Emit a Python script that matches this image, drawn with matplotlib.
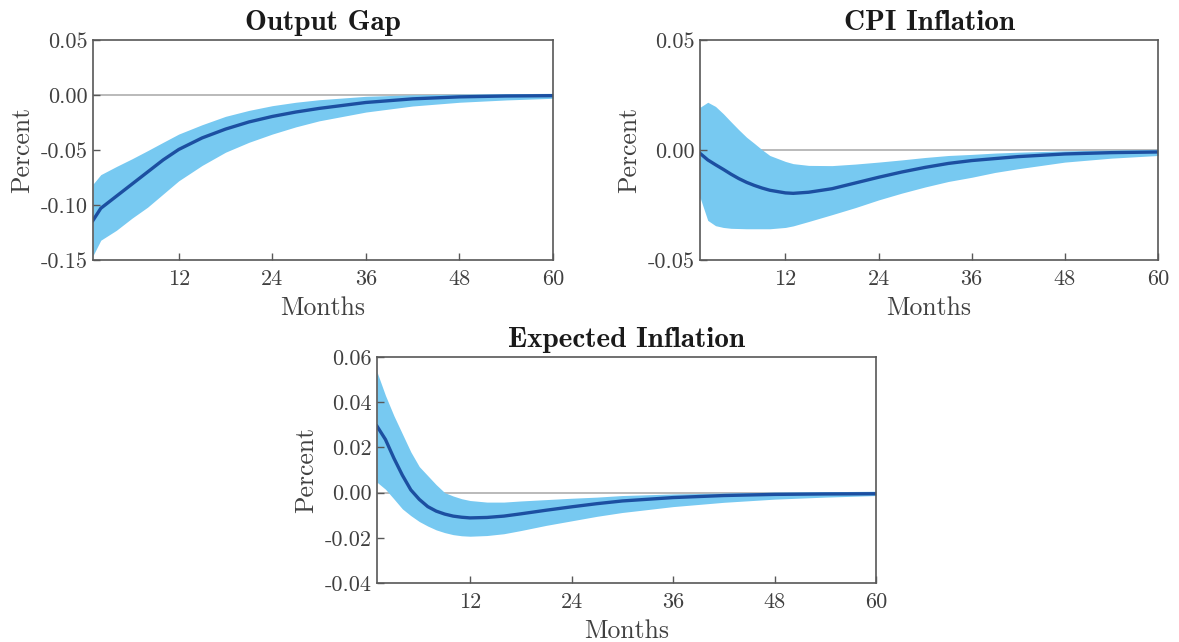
import numpy as np
import matplotlib
matplotlib.use("Agg")
import matplotlib.pyplot as plt
from matplotlib.ticker import FormatStrFormatter

plt.rcParams['font.family'] = ['cmr10', 'DejaVu Serif']
plt.rcParams['axes.unicode_minus'] = False
plt.rcParams['mathtext.fontset'] = 'cm'

# Output gap
og_m = [1, 2, 4, 6, 8, 10, 12, 15, 18, 21, 24, 27, 30, 36, 42, 48, 54, 60]
og_med = [-0.114, -0.103, -0.092, -0.081, -0.070, -0.059, -0.0495, -0.039, -0.031,
          -0.0245, -0.0195, -0.0155, -0.0122, -0.0068, -0.0035, -0.0017, -0.0009, -0.0006]
og_up = [-0.081, -0.0724, -0.065, -0.058, -0.0506, -0.043, -0.0355, -0.027, -0.0194,
         -0.014, -0.0097, -0.0066, -0.0043, -0.0012, 0.0002, 0.0008, 0.0012, 0.0015]
og_lo = [-0.146, -0.132, -0.123, -0.112, -0.102, -0.090, -0.078, -0.064, -0.052,
         -0.043, -0.0355, -0.029, -0.0235, -0.0155, -0.010, -0.0066, -0.0045, -0.003]

# CPI inflation
cpi_m = [1, 2, 3, 4, 5, 6, 7, 8, 9, 10, 12, 13, 15, 18, 21, 24, 27, 30, 33, 36, 39, 42,
         48, 54, 60]
cpi_med = [-0.0015, -0.0045, -0.0067, -0.0088, -0.0110, -0.0130, -0.0147, -0.0161,
           -0.0173, -0.0183, -0.0195, -0.0197, -0.0192, -0.0176, -0.0150, -0.0124,
           -0.0100, -0.0079, -0.0061, -0.0048, -0.0039, -0.0030, -0.0018, -0.0012, -0.0009]
cpi_up = [0.0194, 0.0217, 0.0198, 0.0165, 0.0128, 0.0092, 0.0058, 0.0030, 0.0001,
          -0.0025, -0.0052, -0.0062, -0.0070, -0.0071, -0.0064, -0.0055, -0.0045,
          -0.0034, -0.0025, -0.0020, -0.0014, -0.0010, -0.0004, 0.0, 0.0003]
cpi_lo = [-0.0215, -0.0320, -0.0344, -0.0352, -0.0356, -0.0357, -0.0358, -0.0358,
          -0.0358, -0.0358, -0.0352, -0.0345, -0.0325, -0.0294, -0.0262, -0.0227,
          -0.0196, -0.0168, -0.0143, -0.0124, -0.0102, -0.0085, -0.0055, -0.0037, -0.0025]

# Expected inflation
ei_m = [1, 2, 3, 4, 5, 6, 7, 8, 9, 10, 11, 12, 14, 16, 18, 21, 24, 27, 30, 36, 42, 48,
        54, 60]
ei_med = [0.0294, 0.0235, 0.0152, 0.0077, 0.0012, -0.0030, -0.0062, -0.0082, -0.0095,
          -0.0104, -0.0109, -0.0112, -0.0110, -0.0104, -0.0094, -0.0078, -0.0063,
          -0.0049, -0.0037, -0.0022, -0.0013, -0.0008, -0.0006, -0.0005]
ei_up = [0.0534, 0.0430, 0.0340, 0.0260, 0.0180, 0.0115, 0.0075, 0.0035, 0.0000,
         -0.0015, -0.0027, -0.0035, -0.0042, -0.0042, -0.0037, -0.0031, -0.0025,
         -0.0020, -0.0013, -0.0006, -0.0002, 0.0002, 0.0004, 0.0006]
ei_lo = [0.0046, 0.0015, -0.0028, -0.0072, -0.0102, -0.0128, -0.0148, -0.0165, -0.0177,
         -0.0186, -0.0191, -0.0193, -0.0190, -0.0182, -0.0168, -0.0145, -0.0125,
         -0.0105, -0.0088, -0.0062, -0.0043, -0.0029, -0.0020, -0.0013]

panels = [
    ("Output Gap", og_m, og_med, og_up, og_lo, (-0.15, 0.05), [-0.15, -0.10, -0.05, 0.00, 0.05],
     [93/1179, 1 - 260/642, 460/1179, 220/642]),
    ("CPI Inflation", cpi_m, cpi_med, cpi_up, cpi_lo, (-0.05, 0.05), [-0.05, 0.00, 0.05],
     [700/1179, 1 - 260/642, 458/1179, 220/642]),
    ("Expected Inflation", ei_m, ei_med, ei_up, ei_lo, (-0.04, 0.06),
     [-0.04, -0.02, 0.00, 0.02, 0.04, 0.06],
     [377/1179, 1 - 583/642, 499/1179, 226/642]),
]

band_col = '#77C9F1'
line_col = '#1C4FA1'
spine_col = '#585858'
text_col = '#404040'

fig = plt.figure(figsize=(11.79, 6.42), dpi=100)

for title, m, med, up, lo, ylim, yticks, pos in panels:
    ax = fig.add_axes(pos)
    ax.axhline(0, color='#B4B4B4', linewidth=1.3, zorder=0.5)
    ax.fill_between(m, lo, up, color=band_col, linewidth=0, zorder=1)
    ax.plot(m, med, color=line_col, linewidth=2.4, zorder=2)
    ax.set_xlim(1, 60)
    ax.set_ylim(*ylim)
    ax.set_xticks([12, 24, 36, 48, 60])
    ax.set_yticks(yticks)
    ax.yaxis.set_major_formatter(FormatStrFormatter('%.2f'))
    ax.tick_params(direction='in', length=5, width=1, colors=spine_col,
                   labelcolor=text_col, labelsize=16, top=False, right=False)
    ax.tick_params(axis='x', pad=7)
    for s in ax.spines.values():
        s.set_color(spine_col)
        s.set_linewidth(1.2)
    ax.set_xlabel('Months', fontsize=18.5, color=text_col, labelpad=5)
    ax.set_ylabel('Percent', fontsize=18.5, color=text_col, labelpad=5)
    ax.set_title(title, fontsize=21, fontfamily=['cmb10', 'DejaVu Serif'],
                 color='#1a1a1a', pad=7)

fig.savefig('out.png', dpi=100)
